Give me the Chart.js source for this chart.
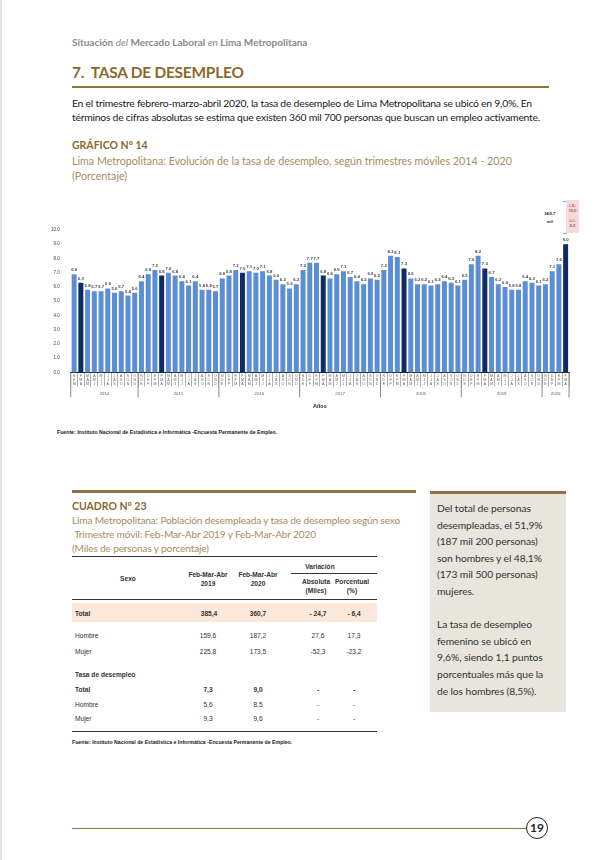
<!DOCTYPE html>
<html>
<head>
<meta charset="utf-8">
<script src="https://cdn.jsdelivr.net/npm/chart.js@4"></script>
<style>
  body { margin: 0; background: #fff; }
  #page { position: relative; width: 614px; height: 860px; overflow: hidden; font-family: Lato, "Open Sans", sans-serif; color: #222; }
  .abs { position: absolute; white-space: nowrap; }
  .brown { color: #8a6a2c; }
  .sub { color: #a68d5e; }
  .tbl { font-family: "Liberation Sans", Arial, sans-serif; font-size: 6.6px; color: #333; }
  .c { text-align: center; transform: translateX(-50%); }
  .b { font-weight: bold; }
</style>
</head>
<body>
<div id="page">
  <div class="abs" style="left:0;top:0;width:2px;height:860px;background:#e4e4e4"></div>
  <div class="abs" style="left:72px;top:36px;font-size:10px;color:#8a8a8a;font-weight:bold">Situación <i style="font-weight:normal">del</i> Mercado Laboral <i style="font-weight:normal">en</i> Lima Metropolitana</div>
  <div class="abs brown" style="left:72px;top:63px;font-size:15.4px;font-weight:bold;letter-spacing:-0.2px">7.&nbsp; TASA DE DESEMPLEO</div>
  <div class="abs" style="left:72px;top:86px;width:477px;height:2px;background:#8d7541"></div>
  <div class="abs" style="left:72px;top:96px;font-size:10.4px;letter-spacing:-0.25px;line-height:14px;color:#1a1a1a">En el trimestre febrero-marzo-abril 2020, la tasa de desempleo de Lima Metropolitana se ubicó en 9,0%. En<br>términos de cifras absolutas se estima que existen 360 mil 700 personas que buscan un empleo activamente.</div>
  <div class="abs brown b" style="left:72px;top:139px;font-size:10.5px">GRÁFICO Nº 14</div>
  <div class="abs sub" style="left:72px;top:153px;font-size:10.7px;line-height:15px">Lima Metropolitana: Evolución de la tasa de desempleo, según trimestres móviles 2014 - 2020<br>(Porcentaje)</div>

  <!-- anotación superior derecha -->
  <div class="abs b" style="left:544px;top:210px;font-size:4.5px;line-height:8px;text-align:center">360,7<br>mil</div>
  <div class="abs" style="left:563px;top:201px;width:3px;height:31px;border:1px dashed #5fb7e0;border-left:none"></div>
  <div class="abs" style="left:566px;top:200px;width:13px;height:33px;background:#f4dada"></div>
  <div class="abs b" style="left:567px;top:203px;font-size:4px;line-height:5px;color:#b35656;text-align:center;width:11px">L.S.:<br>10,0<br><br>L.I.:<br>8,0</div>

  <div class="abs" style="left:40px;top:190px;width:548px;height:224px"><canvas id="myChart1"></canvas></div>
  <div class="abs b" style="left:57px;top:429px;font-size:5.2px;font-family:'Liberation Sans',Arial,sans-serif">Fuente: Instituto Nacional de Estadística e Informática -Encuesta Permanente de Empleo.</div>

  <!-- cuadro -->
  <div class="abs" style="left:72px;top:490px;width:344px;height:3px;background:#8d7541"></div>
  <div class="abs" style="left:430px;top:491px;width:136px;height:3px;background:#8d7541"></div>
  <div class="abs" style="left:430px;top:494px;width:136px;height:218px;background:#e8e5dc"></div>
  <div class="abs" style="left:437px;top:500px;font-size:10.3px;letter-spacing:-0.1px;line-height:16.6px;color:#333">Del total de personas<br>desempleadas, el 51,9%<br>(187 mil 200 personas)<br>son hombres y el 48,1%<br>(173 mil 500 personas)<br>mujeres.<br><br>La tasa de desempleo<br>femenino se ubicó en<br>9,6%, siendo 1,1 puntos<br>porcentuales más que la<br>de los hombres (8,5%).</div>

  <div class="abs brown b" style="left:72px;top:500px;font-size:10.5px">CUADRO Nº 23</div>
  <div class="abs sub" style="left:72px;top:514px;font-size:10.1px;line-height:13.8px;letter-spacing:-0.15px">Lima Metropolitana: Población desempleada y tasa de desempleo según sexo<br>&nbsp;Trimestre móvil: Feb-Mar-Abr 2019 y Feb-Mar-Abr 2020<br>(Miles de personas y porcentaje)</div>

  <div class="abs" style="left:72px;top:556px;width:305px;height:1px;background:#333"></div>
  <div class="abs" style="left:291px;top:573px;width:86px;height:1px;background:#333"></div>
  <div class="abs" style="left:72px;top:599px;width:305px;height:1px;background:#333"></div>
  <div class="abs" style="left:72px;top:603px;width:305px;height:19px;background:#fbe8da"></div>
  <div class="abs" style="left:72px;top:731px;width:305px;height:1px;background:#333"></div>

  <div class="tbl b">
    <div class="abs c" style="left:128px;top:575px">Sexo</div>
    <div class="abs c" style="left:208px;top:570px;line-height:9px">Feb-Mar-Abr<br>2019</div>
    <div class="abs c" style="left:258px;top:570px;line-height:9px">Feb-Mar-Abr<br>2020</div>
    <div class="abs c" style="left:320px;top:563px">Variación</div>
    <div class="abs c" style="left:316px;top:577px;line-height:9px">Absoluta<br>(Miles)</div>
    <div class="abs c" style="left:352px;top:577px;line-height:9px">Porcentual<br>(%)</div>
    <div class="abs" style="left:75px;top:610px">Total</div>
    <div class="abs c" style="left:209px;top:610px">385,4</div>
    <div class="abs c" style="left:258px;top:610px">360,7</div>
    <div class="abs c" style="left:318px;top:610px">- 24,7</div>
    <div class="abs c" style="left:354px;top:610px">- 6,4</div>
    <div class="abs" style="left:75px;top:671px">Tasa de desempleo</div>
    <div class="abs" style="left:75px;top:686px">Total</div>
    <div class="abs c" style="left:208px;top:686px">7,3</div>
    <div class="abs c" style="left:258px;top:686px">9,0</div>
    <div class="abs c" style="left:318px;top:686px">-</div>
    <div class="abs c" style="left:354px;top:686px">-</div>
  </div>
  <div class="tbl">
    <div class="abs" style="left:75px;top:632px">Hombre</div>
    <div class="abs c" style="left:208px;top:632px">159,6</div>
    <div class="abs c" style="left:258px;top:632px">187,2</div>
    <div class="abs c" style="left:318px;top:632px">27,6</div>
    <div class="abs c" style="left:354px;top:632px">17,3</div>
    <div class="abs" style="left:75px;top:648px">Mujer</div>
    <div class="abs c" style="left:208px;top:648px">225,8</div>
    <div class="abs c" style="left:258px;top:648px">173,5</div>
    <div class="abs c" style="left:318px;top:648px">-52,3</div>
    <div class="abs c" style="left:354px;top:648px">-23,2</div>
    <div class="abs" style="left:75px;top:701px">Hombre</div>
    <div class="abs c" style="left:208px;top:701px">5,6</div>
    <div class="abs c" style="left:258px;top:701px">8,5</div>
    <div class="abs c" style="left:318px;top:701px">-</div>
    <div class="abs c" style="left:354px;top:701px">-</div>
    <div class="abs" style="left:75px;top:715px">Mujer</div>
    <div class="abs c" style="left:208px;top:715px">9,3</div>
    <div class="abs c" style="left:258px;top:715px">9,6</div>
    <div class="abs c" style="left:318px;top:715px">-</div>
    <div class="abs c" style="left:354px;top:715px">-</div>
  </div>
  <div class="abs b" style="left:72px;top:739px;font-size:5.2px;font-family:'Liberation Sans',Arial,sans-serif">Fuente: Instituto Nacional de Estadística e Informática -Encuesta Permanente de Empleo.</div>

  <!-- pie de página -->
  <div class="abs" style="left:72px;top:828px;width:455px;height:1px;background:#8d7541"></div>
  <div class="abs" style="left:526px;top:817px;width:20px;height:20px;border:1.5px solid #222;border-radius:50%;font-size:12px;font-weight:bold;text-align:center;line-height:20px">19</div>
</div>

<script>
// tasa de desempleo por trimestre movil, Ene-Feb-Mar 2014 a Feb-Mar-Abr 2020
const tasa = [
  6.9, 6.3, 5.8, 5.7, 5.7, 5.9, 5.6, 5.7, 5.4, 5.6,
  6.4, 6.9, 7.2, 6.8, 7.0, 6.8, 6.4, 6.1, 6.4, 5.8, 5.8, 5.7,
  6.6, 6.8, 7.2, 7.0, 7.1, 7.0, 7.1, 6.8, 6.5, 6.2, 5.9, 6.2,
  7.2, 7.7, 7.7, 6.8, 6.6, 6.9, 7.1, 6.7, 6.4, 6.2, 6.6, 6.5,
  7.2, 8.2, 8.1, 7.3, 6.6, 6.2, 6.2, 6.1, 6.2, 6.4, 6.3, 6.1,
  6.5, 7.6, 8.2, 7.3, 6.7, 6.2, 6.0, 5.8, 5.8, 6.4, 6.3, 6.1,
  6.2, 7.1, 7.6, 9.0
];
// iniciales de los trimestres moviles (empieza en Ene-Feb-Mar)
const periodos = [
  ["E","F","M"], ["F","M","A"], ["M","A","M"], ["A","M","J"],
  ["M","J","J"], ["J","J","A"], ["J","A","S"], ["A","S","O"],
  ["S","O","N"], ["O","N","D"], ["N","D","E"], ["D","E","F"]
];
const anios = ["2014", "2015", "2016", "2017", "2018", "2019", "2020"];
const barrasPorAnio = [10, 12, 12, 12, 12, 12, 4];
const yTicks = [0, 1, 2, 3, 4, 5, 6, 7, 8, 9, 10];

const etiquetas = tasa.map((v, i) => periodos[i % 12]);
const colores = tasa.map((v, i) => (i % 12 === 1 ? "#0f2b61" : "#5b8ed3"));

// valor encima de cada barra
const valoresPlugin = {
  id: "valores",
  afterDatasetsDraw(chart) {
    const ctx = chart.ctx;
    const meta = chart.getDatasetMeta(0);
    ctx.save();
    ctx.font = "bold 4.3px 'Liberation Sans', Arial";
    ctx.fillStyle = "#444";
    ctx.textAlign = "center";
    ctx.textBaseline = "bottom";
    meta.data.forEach((bar, i) => {
      ctx.fillText(tasa[i].toFixed(1), bar.x, bar.y - 2);
    });
    ctx.restore();
  }
};

// años debajo del eje y separadores largos
const aniosPlugin = {
  id: "anios",
  afterDraw(chart) {
    const ctx = chart.ctx;
    const x = chart.scales.x;
    const half = (x.getPixelForValue(1) - x.getPixelForValue(0)) / 2;
    const bottom = chart.chartArea.bottom;
    ctx.save();
    ctx.strokeStyle = "#888";
    ctx.lineWidth = 1;
    ctx.font = "4.3px 'Liberation Sans', Arial";
    ctx.fillStyle = "#555";
    ctx.textAlign = "center";
    let start = 0;
    anios.forEach((a, k) => {
      const end = start + barrasPorAnio[k] - 1;
      const left = x.getPixelForValue(start) - half;
      const right = x.getPixelForValue(end) + half;
      ctx.beginPath();
      ctx.moveTo(left, bottom);
      ctx.lineTo(left, bottom + 25);
      ctx.stroke();
      if (k === anios.length - 1) {
        ctx.beginPath();
        ctx.moveTo(right, bottom);
        ctx.lineTo(right, bottom + 25);
        ctx.stroke();
      }
      ctx.fillText(a, (left + right) / 2, bottom + 23);
      start = end + 1;
    });
    ctx.restore();
  }
};

new Chart(document.getElementById("myChart1"), {
  type: "bar",
  data: {
    labels: etiquetas,
    datasets: [{
      data: tasa,
      backgroundColor: colores,
      barPercentage: 0.74,
      categoryPercentage: 1
    }]
  },
  options: {
    responsive: true,
    maintainAspectRatio: false,
    animation: false,
    layout: { padding: { top: 40, left: 8, right: 19, bottom: 4 } },
    plugins: { legend: { display: false }, tooltip: { enabled: false } },
    scales: {
      x: {
        offset: true,
        grid: { display: true, drawOnChartArea: false, offset: true, tickLength: 14, color: "#b0b0b0" },
        border: { display: true, color: "#222", width: 1 },
        ticks: {
          autoSkip: false,
          maxRotation: 0,
          padding: -13,
          font: { size: 3.6, family: "'Liberation Sans', Arial" },
          color: "#666"
        },
        title: {
          display: true,
          text: "Años",
          font: { size: 5.5, weight: "bold", family: "'Liberation Sans', Arial" },
          color: "#222",
          padding: { top: 30, bottom: 0 }
        }
      },
      y: {
        min: 0,
        max: 10,
        afterBuildTicks(axis) { axis.ticks = yTicks.map(v => ({ value: v })); },
        grid: { display: false },
        border: { display: false },
        ticks: {
          padding: 3,
          font: { size: 4.5, family: "'Liberation Sans', Arial" },
          color: "#444",
          callback: v => v.toFixed(1)
        }
      }
    }
  },
  plugins: [valoresPlugin, aniosPlugin]
});
</script>
</body>
</html>
